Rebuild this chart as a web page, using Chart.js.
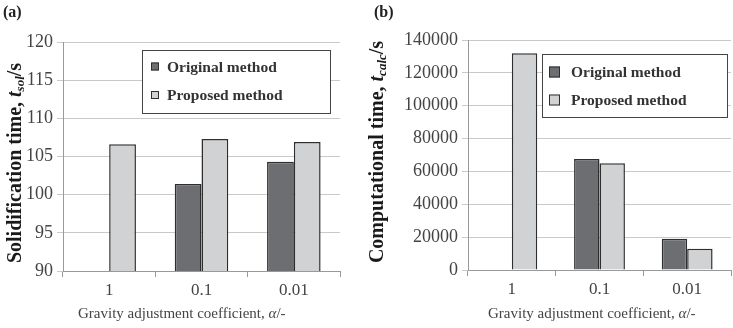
<!DOCTYPE html>
<html>
<head>
<meta charset="utf-8">
<script src="https://cdn.jsdelivr.net/npm/chart.js@4/dist/chart.umd.min.js"></script>
<style>
  body { margin: 0; background: #fff; }
  #wrap { position: relative; width: 733px; height: 328px; overflow: hidden; font-family: "Liberation Serif", "DejaVu Serif", serif; }
  .panel { position: absolute; top: 0; height: 328px; }
  .tag { position: absolute; font-weight: bold; font-size: 16px; color: #222; }
  .xtitle { position: absolute; font-size: 15px; color: #444; white-space: nowrap; }
  .ytitle { position: absolute; width: 280px; height: 22px; line-height: 22px; text-align: center; font-weight: bold; font-size: 20px; color: #1a1a1a; white-space: nowrap; transform: rotate(-90deg); }
  .ytitle sub { font-size: 13px; vertical-align: -3px; }
</style>
</head>
<body>
<div id="wrap">
  <div class="panel" style="left:0;width:363px"><canvas id="chartA" width="363" height="328"></canvas></div>
  <div class="panel" style="left:363px;width:370px"><canvas id="chartB" width="370" height="328"></canvas></div>
  <div class="tag" style="left:3px;top:3px">(a)</div>
  <div class="tag" style="left:374px;top:3px">(b)</div>
  <div class="ytitle" style="left:-126px;top:152px">Solidification time, <i>t</i><sub><i>sol</i></sub>/s</div>
  <div class="ytitle" style="left:236px;top:141px">Computational time, <i>t</i><sub><i>calc</i></sub>/s</div>
  <div class="xtitle" style="left:78px;top:305px">Gravity adjustment coefficient, <i>α</i>/-</div>
  <div class="xtitle" style="left:488px;top:305px">Gravity adjustment coefficient, <i>α</i>/-</div>
</div>
<script>
// 데이터
const categories = ['1', '0.1', '0.01'];
const seriesNames = ['Original method', 'Proposed method'];
const solOriginal = [90, 101.4, 104.3];
const solProposed = [106.6, 107.3, 106.9];
const calcOriginal = [null, 67500, 19000];
const calcProposed = [132000, 65000, 13000];

const DARK = '#6d6e71';
const LIGHT = '#d1d2d4';
const EDGE = '#2e2e2e';
const SERIF = '"Liberation Serif", "DejaVu Serif", serif';

// 차트 안쪽 범례 상자
const boxLegend = {
    id: 'boxLegend',
    afterDraw(chart, args, opts) {
        const ctx = chart.ctx;
        ctx.save();
        ctx.fillStyle = '#fff';
        ctx.fillRect(opts.x, opts.y, opts.w, opts.h);
        ctx.strokeStyle = '#444';
        ctx.lineWidth = 1;
        ctx.strokeRect(opts.x + 0.5, opts.y + 0.5, opts.w, opts.h);
        ctx.font = 'bold 15.5px ' + SERIF;
        ctx.textBaseline = 'middle';
        chart.data.datasets.forEach((ds, i) => {
            const cy = opts.rows[i];
            const s = opts.sq;
            ctx.fillStyle = ds.backgroundColor;
            ctx.fillRect(opts.sqX, cy - s / 2, s, s);
            ctx.strokeStyle = EDGE;
            ctx.lineWidth = 1;
            ctx.strokeRect(opts.sqX + 0.5, cy - s / 2 + 0.5, s - 1, s - 1);
            ctx.fillStyle = '#333';
            ctx.fillText(ds.label, opts.textX, cy + 1);
        });
        ctx.restore();
    }
};

function makeChart(id, a, b, yOpts, layout, legendPos) {
    const ctx = document.getElementById(id).getContext('2d');
    return new Chart(ctx, {
        type: 'bar',
        data: {
            labels: categories,
            datasets: [
                { label: seriesNames[0], data: a, backgroundColor: DARK, borderColor: EDGE, borderWidth: 1.5, minBarLength: 2 },
                { label: seriesNames[1], data: b, backgroundColor: LIGHT, borderColor: EDGE, borderWidth: 1.5 }
            ]
        },
        options: {
            responsive: false,
            animation: false,
            layout: { padding: layout.padding },
            datasets: { bar: { categoryPercentage: 0.58, barPercentage: 1 } },
            plugins: {
                legend: { display: false },
                tooltip: { enabled: false },
                boxLegend: legendPos
            },
            scales: {
                x: {
                    afterFit: s => { s.height = layout.xh; },
                    grid: { drawOnChartArea: false, color: '#999', tickLength: 6 },
                    border: { color: '#999' },
                    ticks: { color: '#444', font: { family: SERIF, size: 17 }, padding: 3 }
                },
                y: Object.assign({
                    afterFit: s => { s.width = layout.yw; },
                    grid: { color: '#c9c9c9', tickLength: 6 },
                    border: { color: '#999' }
                }, yOpts)
            }
        },
        plugins: [boxLegend]
    });
}

const yTicks = step => ({ stepSize: step, color: '#444', font: { family: SERIF, size: 18 }, padding: 4, callback: v => String(v) });

makeChart('chartA', solOriginal, solProposed,
    { min: 90, max: 120, ticks: yTicks(5) },
    { padding: { left: 0, right: 23, top: 42, bottom: 0 }, xh: 57, yw: 63 },
    { x: 142, y: 50, w: 188, h: 63, sq: 8, sqX: 151, textX: 167, rows: [66.5, 95] });

makeChart('chartB', calcOriginal, calcProposed,
    { min: 0, max: 140000, ticks: yTicks(20000) },
    { padding: { left: 0, right: 2, top: 40, bottom: 0 }, xh: 58, yw: 105 },
    { x: 179, y: 54, w: 185, h: 63, sq: 11, sqX: 186, textX: 208, rows: [72, 100] });
</script>
</body>
</html>
